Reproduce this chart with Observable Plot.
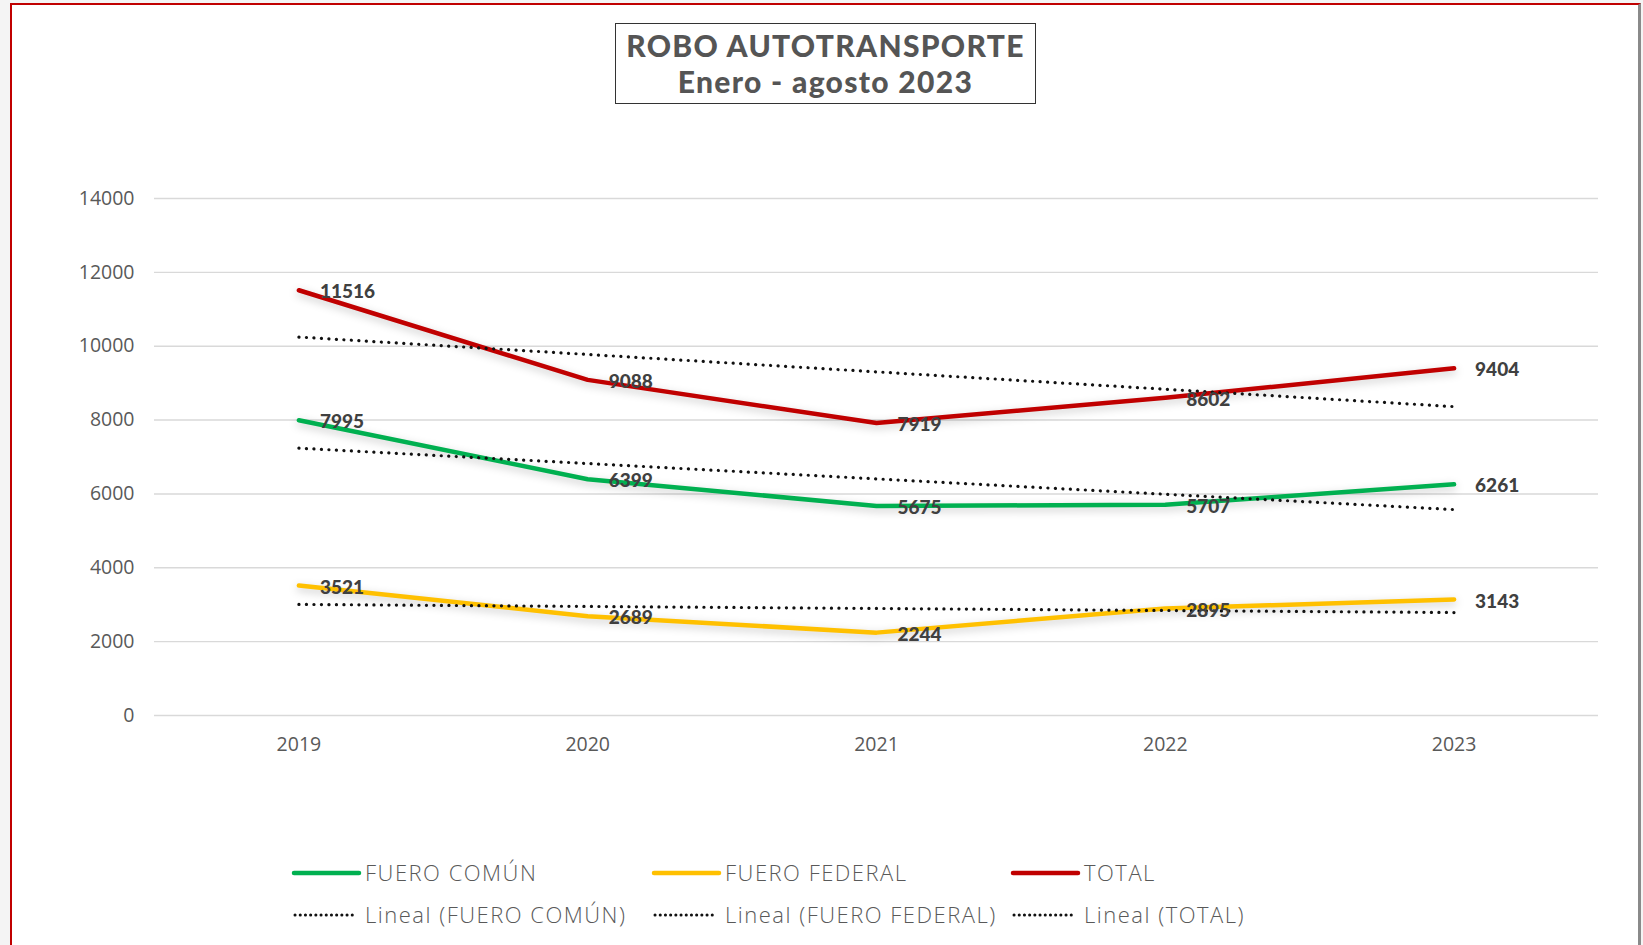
<!DOCTYPE html>
<html>
<head>
<meta charset="utf-8">
<script src="https://cdn.jsdelivr.net/npm/d3@7"></script>
<script src="https://cdn.jsdelivr.net/npm/@observablehq/plot@0.6"></script>
<style>
  html, body { margin: 0; padding: 0; background: #f4f4f4; }
  #page { position: relative; width: 1643px; height: 945px; overflow: hidden; background: #f4f4f4; }
  #frame { position: absolute; left: 10px; top: 3px; width: 1626px; height: 1000px; background: #fff;
           border-left: 2px solid #c00000; border-top: 2px solid #c00000; border-right: 3px solid #8a8a8a; }
  #title { position: absolute; left: 615px; top: 23px; width: 421px; height: 81px; border: 1.6px solid #333;
           background: #fff; box-sizing: border-box; }
  #title div { position: absolute; left: 0; width: 100%; text-align: center; font-family: Lato, sans-serif;
           font-weight: 900; font-size: 30px; line-height: 30px; letter-spacing: 1.3px; color: #555; }
  #chart { position: absolute; left: 0; top: 110px; }
  #legend { position: absolute; left: 0; top: 845px; }
</style>
</head>
<body>
<div id="page">
  <div id="frame"></div>
  <div id="title"><div style="top:6px">ROBO AUTOTRANSPORTE</div><div style="top:42px">Enero - agosto 2023</div></div>
  <div id="chart"></div>
  <div id="legend"></div>
</div>
<script>
const years = [2019, 2020, 2021, 2022, 2023];
const fueroComun = [7995, 6399, 5675, 5707, 6261];
const fueroFederal = [3521, 2689, 2244, 2895, 3143];
const total = [11516, 9088, 7919, 8602, 9404];
const seriesNames = ["FUERO COMÚN", "FUERO FEDERAL", "TOTAL"];
const trendNames = ["Lineal (FUERO COMÚN)", "Lineal (FUERO FEDERAL)", "Lineal (TOTAL)"];
const seriesColors = ["#00b050", "#ffc000", "#c00000"];
const yTicks = [0, 2000, 4000, 6000, 8000, 10000, 12000, 14000];

const seriesValues = [fueroComun, fueroFederal, total];
const rows = [];
seriesNames.forEach((s, i) => years.forEach((yr, j) => rows.push({series: s, year: yr, value: seriesValues[i][j]})));

const chart = Plot.plot({
  width: 1643,
  height: 680,
  marginTop: 88,
  marginBottom: 75,
  marginLeft: 154,
  marginRight: 45,
  style: {fontFamily: "'Open Sans', sans-serif", fontSize: "19.5px", color: "#595959", background: "transparent"},
  x: {type: "linear", domain: [2018.5, 2023.5]},
  y: {domain: [0, 14000]},
  color: {domain: seriesNames, range: seriesColors},
  marks: [
    Plot.ruleY(yTicks, {stroke: "#d9d9d9", strokeWidth: 1.4}),
    Plot.axisY({ticks: yTicks, tickSize: 0, tickPadding: 20, tickFormat: d => String(d), label: null}),
    Plot.axisX({ticks: years, tickSize: 0, tickPadding: 22, tickFormat: d => String(d), label: null}),
    Plot.line(rows, {x: "year", y: "value", z: "series", stroke: "series", strokeWidth: 4.5, strokeLinejoin: "round", strokeLinecap: "round"}),
    Plot.linearRegressionY(rows, {x: "year", y: "value", z: "series", stroke: "#111", ci: 0, strokeWidth: 3.2, strokeDasharray: "0.1,7.4", strokeLinecap: "round"}),
    Plot.text(rows, {x: "year", y: "value", text: d => String(d.value), textAnchor: "start", dx: 21, dy: 2,
      fill: "#404040", fontWeight: 900, fontSize: 19, fontFamily: "Lato, sans-serif"})
  ]
});
chart.querySelectorAll('g[aria-label="line"] path').forEach(p => p.style.filter = "drop-shadow(0px 3px 4px rgba(0,0,0,0.22))");
document.getElementById("chart").appendChild(chart);

// legend
const lg = d3.select("#legend").append("svg").attr("width", 1643).attr("height", 100)
  .style("font-family", "'Open Sans', sans-serif").style("font-size", "22px").style("font-weight", 300)
  .style("letter-spacing", "1.5px");
const colX = [294, 654, 1013];
seriesNames.forEach((s, i) => {
  const g = lg.append("g").attr("transform", `translate(${colX[i]},28)`);
  g.append("line").attr("x1", 0).attr("x2", 65).attr("stroke", seriesColors[i]).attr("stroke-width", 4.5).attr("stroke-linecap", "round");
  g.append("text").attr("x", 71).attr("dy", "0.35em").attr("fill", "#595959").text(s);
});
trendNames.forEach((s, i) => {
  const g = lg.append("g").attr("transform", `translate(${colX[i]},70)`);
  g.append("line").attr("x1", 1).attr("x2", 63).attr("stroke", "#111").attr("stroke-width", 3)
    .attr("stroke-dasharray", "0.1,5.1").attr("stroke-linecap", "round");
  g.append("text").attr("x", 71).attr("dy", "0.35em").attr("fill", "#595959").text(s);
});
</script>
</body>
</html>
